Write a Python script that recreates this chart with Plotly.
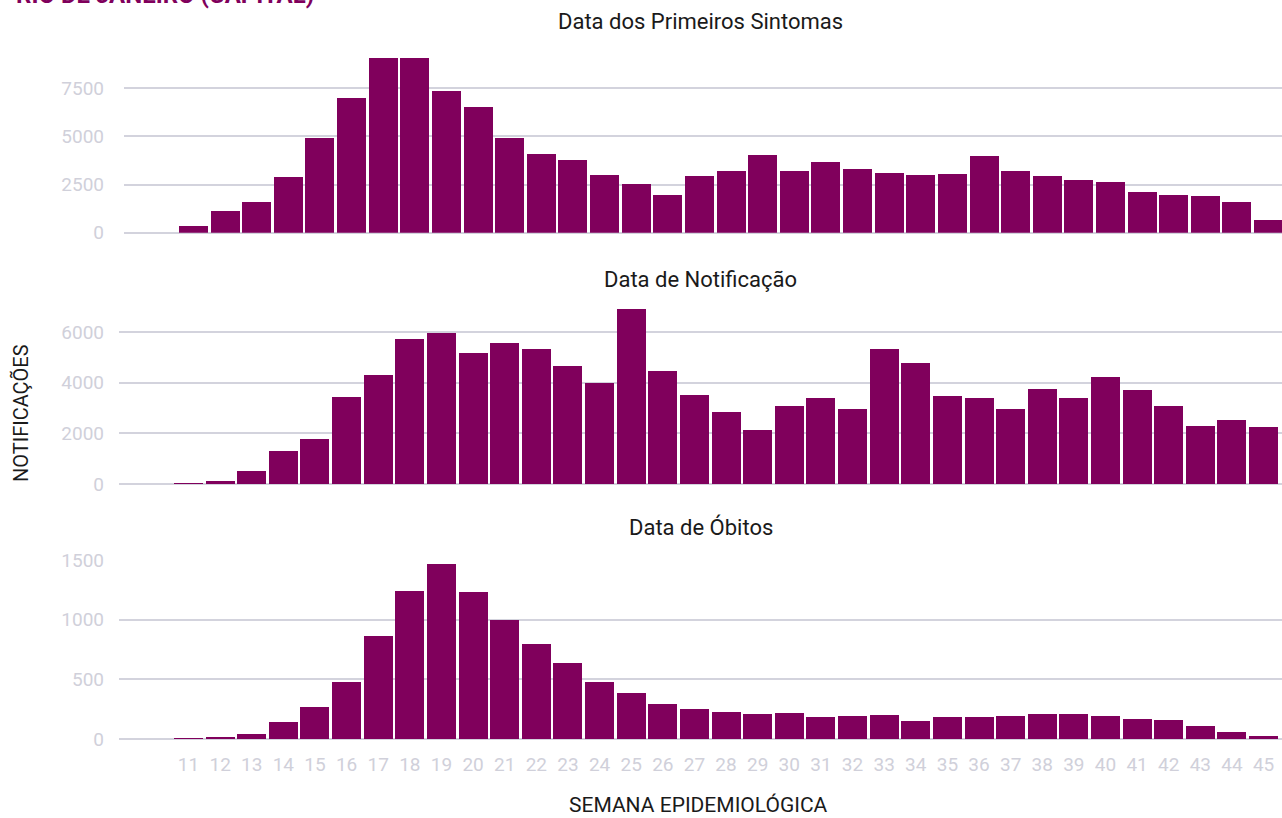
import plotly.graph_objects as go

weeks = list(range(11, 46))

sintomas = [364, 1126, 1594, 2893, 4920, 6998, 9077, 9077, 7362, 6530,
            4920, 4088, 3776, 2997, 2529, 1957, 2945, 3204, 4036, 3204,
            3672, 3308, 3100, 2997, 3048, 3984, 3204, 2945, 2737, 2633,
            2113, 1957, 1905, 1594, 658]

notificacao = [30, 118, 513, 1303, 1776, 3434, 4303, 5724, 5961, 5171,
               5566, 5329, 4658, 3987, 6908, 4461, 3513, 2842, 2132, 3079,
               3395, 2961, 5329, 4776, 3474, 3395, 2961, 3750, 3395, 4224,
               3711, 3079, 2290, 2526, 2250]

obitos = [5, 10, 45, 142, 268, 478, 863, 1240, 1466, 1232,
          997, 796, 637, 478, 385, 293, 251, 226, 209, 218,
          184, 193, 201, 151, 184, 184, 193, 209, 209, 193,
          168, 159, 109, 59, 25]

panel_titles = ["Data dos Primeiros Sintomas", "Data de Notificação", "Data de Óbitos"]
y_ticks = [[0, 2500, 5000, 7500], [0, 2000, 4000, 6000], [0, 500, 1000, 1500]]
main_title = "RIO DE JANEIRO (CAPITAL)"
x_title = "SEMANA EPIDEMIOLÓGICA"
y_title = "NOTIFICAÇÕES"

PURPLE = "#80005c"
GRID = "#d3d3dd"
TICK = "#d0d0da"
TEXT = "#1a1a1a"
FONT = "Roboto"

W, H = 1282, 818
L = 119
PW = W - L
px_per_week = 31.62
r0 = 11 - 69.5 / px_per_week

fig = go.Figure()
series = [sintomas, notificacao, obitos]
for i, vals in enumerate(series):
    sfx = "" if i == 0 else str(i + 1)
    fig.add_trace(go.Bar(x=weeks, y=vals, width=0.917, marker_color=PURPLE,
                         marker_line_width=0, xaxis="x" + sfx, yaxis="y" + sfx,
                         showlegend=False, hoverinfo="x+y"))

# panel pixel positions (top, bottom)
panels = [(58, 232.7), (309, 484), (559, 739)]
x_shift = [5, 0, 0]

layout = dict(
    width=W, height=H, plot_bgcolor="white", paper_bgcolor="white",
    margin=dict(l=L, r=0, t=0, b=0, autoexpand=False), bargap=0, showlegend=False,
    font=dict(family=FONT, color=TEXT),
)
for i in range(3):
    sfx = "" if i == 0 else str(i + 1)
    top, bot = panels[i]
    shift = x_shift[i]
    xr = [r0, r0 + (PW - shift) / px_per_week]
    ymax = max(max(series[i]), y_ticks[i][-1] * 1.005)
    layout["xaxis" + sfx] = dict(
        domain=[shift / PW, 1], range=xr, anchor="y" + sfx,
        showgrid=False, zeroline=False, showline=False,
        tickmode="array", tickvals=weeks, ticktext=[str(w) for w in weeks],
        showticklabels=(i == 2), ticks="",
        tickfont=dict(family=FONT, size=19, color=TICK), ticklabelstandoff=12,
    )
    layout["yaxis" + sfx] = dict(
        domain=[1 - bot / H, 1 - top / H], range=[0, ymax],
        anchor="x" + sfx, showgrid=True, gridcolor=GRID, gridwidth=2,
        zeroline=True, zerolinecolor=GRID, zerolinewidth=2, showline=False,
        tickmode="array", tickvals=y_ticks[i], ticks="",
        tickfont=dict(family=FONT, size=19, color=TICK),
        ticklabelstandoff=14 + shift,
    )
fig.update_layout(**layout)

title_y = [22, 279, 527]
annotations = []
for i in range(3):
    annotations.append(dict(text=panel_titles[i], xref="paper", yref="paper",
                            x=0.5, y=1 - title_y[i] / H, xanchor="center", yanchor="middle",
                            showarrow=False,
                            font=dict(family=FONT, size=22, color=TEXT)))
annotations.append(dict(text=x_title, xref="paper", yref="paper", x=(698 - L) / PW,
                        y=1 - 805 / H, xanchor="center", yanchor="middle", showarrow=False,
                        font=dict(family=FONT, size=21, color=TEXT)))
annotations.append(dict(text=y_title, xref="paper", yref="paper", x=(21 - L) / PW,
                        y=1 - 413 / H, xanchor="center", yanchor="middle", textangle=-90,
                        showarrow=False, font=dict(family=FONT, size=20, color=TEXT)))
annotations.append(dict(text="<b>" + main_title + "</b>", xref="paper", yref="paper",
                        x=(14 - L) / PW, y=1 - 11 / H, xanchor="left", yanchor="bottom",
                        showarrow=False, font=dict(family=FONT, size=24, color=PURPLE)))
fig.update_layout(annotations=annotations)

fig.write_html("out.html", config={"displayModeBar": False},
               post_script="document.body.style.margin='0';document.body.style.overflow='hidden';")
